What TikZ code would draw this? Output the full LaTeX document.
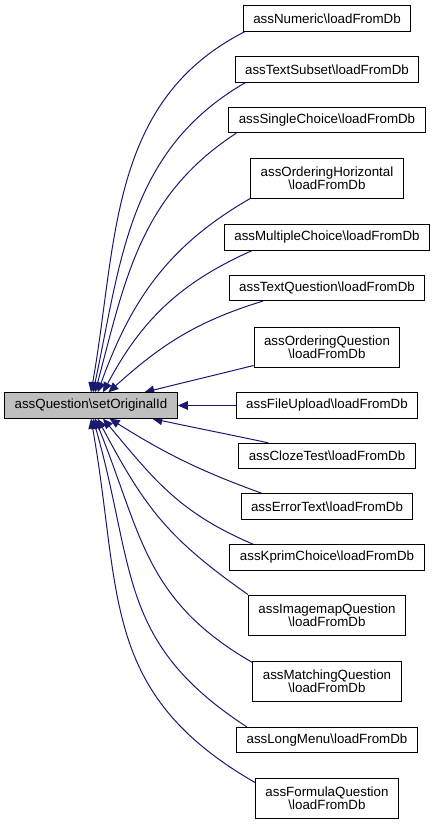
\documentclass[tikz,border=0pt]{standalone}
\usepackage{fontspec}
\setmainfont{Liberation Sans}
\usepackage{tikz}
\usetikzlibrary{arrows.meta,backgrounds}
\definecolor{edgeblue}{HTML}{191970}
\definecolor{selgray}{HTML}{BFBFBF}
\pgfdeclarelayer{edgelayer}
\pgfdeclarelayer{nodelayer}
\pgfsetlayers{edgelayer,nodelayer,main}
\tikzstyle{func}=[rectangle,draw=black,line width=0.75pt,fill=white,font=\fontsize{10}{9.75}\selectfont,align=center,inner xsep=7.5pt,inner ysep=2pt,minimum height=19pt]
\tikzstyle{twoline}=[minimum height=30pt]
\tikzstyle{current}=[fill=selgray]
\tikzstyle{inarrow}=[->, >={Triangle[length=7.5pt,width=6.5pt]}, draw=edgeblue, line width=0.75pt]

\begin{document}
\begin{tikzpicture}[x=0.75pt,y=0.75pt]
	\useasboundingbox (0,0) rectangle (435,-825);
	\begin{pgfonlayer}{nodelayer}
		\node [style=func, style=current] (main) at (91,-405.5) {assQuestion\textbackslash setOriginalId};
		\node [style=func] (numeric) at (327,-18.5) {assNumeric\textbackslash loadFromDb};
		\node [style=func] (textsubset) at (327,-69.5) {assTextSubset\textbackslash loadFromDb};
		\node [style=func] (singlechoice) at (327,-120) {assSingleChoice\textbackslash loadFromDb};
		\node [style=func, style=twoline] (orderhoriz) at (327,-178) {assOrderingHorizontal\\\textbackslash loadFromDb};
		\node [style=func] (multichoice) at (327,-237.5) {assMultipleChoice\textbackslash loadFromDb};
		\node [style=func] (textquest) at (327,-288) {assTextQuestion\textbackslash loadFromDb};
		\node [style=func, style=twoline] (orderquest) at (327,-347) {assOrderingQuestion\\\textbackslash loadFromDb};
		\node [style=func] (fileupload) at (327,-405.5) {assFileUpload\textbackslash loadFromDb};
		\node [style=func] (cloze) at (327,-456) {assClozeTest\textbackslash loadFromDb};
		\node [style=func] (errortext) at (327,-506.5) {assErrorText\textbackslash loadFromDb};
		\node [style=func] (kprim) at (327,-557.5) {assKprimChoice\textbackslash loadFromDb};
		\node [style=func, style=twoline] (imagemap) at (327,-615) {assImagemapQuestion\\\textbackslash loadFromDb};
		\node [style=func, style=twoline] (matching) at (327,-681) {assMatchingQuestion\\\textbackslash loadFromDb};
		\node [style=func] (longmenu) at (327,-740) {assLongMenu\textbackslash loadFromDb};
		\node [style=func, style=twoline] (formula) at (327,-798) {assFormulaQuestion\\\textbackslash loadFromDb};
	\end{pgfonlayer}
	\begin{pgfonlayer}{edgelayer}
		% callers above the selected function
		\draw [style=inarrow] ([xshift=1.5pt]numeric.south west) to[out=207, in=80] (main.north);
		\draw [style=inarrow] ([xshift=8pt]textsubset.south west) to[out=210, in=78] ([xshift=1.5pt]main.north);
		\draw [style=inarrow] ([xshift=6pt]singlechoice.south west) to[out=213, in=75] ([xshift=3pt]main.north);
		\draw [style=inarrow] (orderhoriz.south west) to[out=210, in=70] ([xshift=5pt]main.north);
		\draw [style=inarrow] ([xshift=21pt]multichoice.south west) to[out=204, in=62] ([xshift=9pt]main.north);
		\draw [style=inarrow] ([xshift=25.5pt]textquest.south west) to[out=197, in=42] ([xshift=13pt]main.north);
		\draw [style=inarrow] ([yshift=1.5pt]orderquest.south west) to[out=194, in=14] ([xshift=40pt]main.north);
		\draw [style=inarrow] (fileupload.west) to (main.east);
		% callers below the selected function
		\draw [style=inarrow] ([xshift=22.5pt]cloze.north west) to[out=168, in=-12] ([xshift=46pt]main.south);
		\draw [style=inarrow] ([xshift=16pt]errortext.north west) to[out=160, in=-32] ([xshift=14pt]main.south);
		\draw [style=inarrow] ([xshift=18pt]kprim.north west) to[out=157, in=-50, looseness=1.05] ([xshift=9pt]main.south);
		\draw [style=inarrow] (imagemap.north west) to[out=145, in=-62, looseness=1.1] ([xshift=5pt]main.south);
		\draw [style=inarrow] ([yshift=-1.5pt]matching.north west) to[out=150, in=-68, looseness=1.1] ([xshift=3pt]main.south);
		\draw [style=inarrow] ([xshift=8pt]longmenu.north west) to[out=147, in=-74, looseness=1.15] ([xshift=1.5pt]main.south);
		\draw [style=inarrow] ([yshift=-3.75pt]formula.north west) to[out=150, in=-80, looseness=1.15] (main.south);
	\end{pgfonlayer}
\end{tikzpicture}
\end{document}
